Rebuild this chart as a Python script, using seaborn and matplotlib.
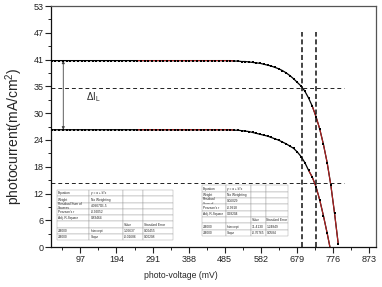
import matplotlib
matplotlib.use('Agg')
import numpy as np
import pandas as pd
import matplotlib.pyplot as plt
import seaborn as sns
from matplotlib.ticker import AutoMinorLocator

# Data (photo-voltage in mV, photocurrent in mA/cm2)
voltage_high = [20, 30, 40, 50, 60, 70, 80, 90, 100, 110,
                120, 130, 140, 150, 160, 170, 180, 190, 200, 210,
                220, 230, 240, 250, 260, 270, 280, 290, 300, 310,
                320, 330, 340, 350, 360, 370, 380, 390, 400, 410,
                420, 430, 440, 450, 460, 470, 480, 490, 500, 510,
                520, 530, 540, 550, 560, 570, 580, 590, 600, 610,
                620, 630, 640, 650, 660, 670, 680, 690, 700, 710,
                720, 730, 740, 750, 760, 770, 780, 790]
current_high = [41.0, 41.0, 41.0, 41.0, 41.0, 41.0, 41.0, 41.0, 41.0, 41.0,
                41.0, 41.0, 41.0, 41.0, 41.0, 41.0, 41.0, 41.0, 41.0, 41.0,
                41.0, 41.0, 41.0, 41.0, 41.0, 41.0, 41.0, 41.0, 41.0, 41.0,
                41.0, 41.0, 41.0, 41.0, 41.0, 41.0, 41.0, 41.0, 41.0, 41.0,
                41.0, 41.0, 41.0, 41.0, 41.0, 41.0, 41.0, 41.0, 41.0, 40.9,
                40.9, 40.8, 40.8, 40.7, 40.6, 40.5, 40.4, 40.2, 40.0, 39.8,
                39.5, 39.2, 38.8, 38.3, 37.7, 37.0, 36.2, 35.4, 34.3, 32.8,
                31.0, 28.7, 26.0, 22.6, 18.6, 13.6, 7.4, 0.6]

voltage_low = [20, 30, 40, 50, 60, 70, 80, 90, 100, 110,
               120, 130, 140, 150, 160, 170, 180, 190, 200, 210,
               220, 230, 240, 250, 260, 270, 280, 290, 300, 310,
               320, 330, 340, 350, 360, 370, 380, 390, 400, 410,
               420, 430, 440, 450, 460, 470, 480, 490, 500, 510,
               520, 530, 540, 550, 560, 570, 580, 590, 600, 610,
               620, 630, 640, 650, 660, 670, 680, 690, 700, 710,
               720, 730, 740, 750, 760, 770]
current_low = [25.8, 25.8, 25.8, 25.8, 25.8, 25.8, 25.8, 25.8, 25.8, 25.8,
               25.8, 25.8, 25.8, 25.8, 25.8, 25.8, 25.8, 25.8, 25.8, 25.8,
               25.8, 25.8, 25.8, 25.8, 25.8, 25.8, 25.8, 25.8, 25.8, 25.8,
               25.8, 25.8, 25.8, 25.8, 25.8, 25.8, 25.8, 25.8, 25.8, 25.8,
               25.8, 25.8, 25.8, 25.8, 25.8, 25.8, 25.8, 25.8, 25.8, 25.7,
               25.7, 25.6, 25.5, 25.4, 25.2, 25.0, 24.8, 24.6, 24.4, 24.1,
               23.8, 23.5, 23.1, 22.7, 22.2, 21.7, 20.9, 19.9, 18.6, 16.9,
               15.4, 13.3, 10.4, 6.9, 3.1, -1.0]

# voltage windows covered by the red fit lines
fit_flat = (250, 510)
fit_high_tail = (720, 790)
fit_low_tail = (710, 770)

x_ticks = [97, 194, 291, 388, 485, 582, 679, 776, 873]
y_tick_pos = [0, 53/9, 2*53/9, 3*53/9, 4*53/9, 5*53/9, 6*53/9, 7*53/9, 8*53/9, 53]
y_tick_labels = ['0', '6', '12', '18', '24', '30', '35', '41', '47', '53']

ref_currents = [35.0, 14.1]
ref_voltages = [692, 731]

table_left = [["Equation", "y = a + b*x", "", ""],
              ["Weight", "No Weighting", "", ""],
              ["Residual Sum of\nSquares", "4.09079E-5", "", ""],
              ["Pearson's r", "-0.92052", "", ""],
              ["Adj. R-Square", "0.83464", "", ""],
              ["", "", "Value", "Standard Error"],
              ["JM000", "Intercept", "1.06637", "0.00455"],
              ["JM000", "Slope", "-0.01686", "0.00208"]]
table_right = [["Equation", "y = a + b*x", "", ""],
               ["Weight", "No Weighting", "", ""],
               ["Residual\nSum of", "0.06029", "", ""],
               ["Pearson's r", "-0.9918", "", ""],
               ["Adj. R-Square", "0.98204", "", ""],
               ["", "", "Value", "Standard Error"],
               ["JM000", "Intercept", "31.4130", "1.24849"],
               ["JM000", "Slope", "-0.76765", "0.0584"]]

sns.set_style('ticks')
plt.rcParams['font.family'] = ['Liberation Sans', 'DejaVu Sans']
plt.rcParams['mathtext.fontset'] = 'custom'
plt.rcParams['mathtext.rm'] = 'Liberation Sans'
plt.rcParams['mathtext.it'] = 'Liberation Sans:italic'

high = pd.DataFrame({'V': voltage_high, 'I': current_high})
low = pd.DataFrame({'V': voltage_low, 'I': current_low})

fig, ax = plt.subplots(figsize=(3.82, 2.87), dpi=100)
fig.subplots_adjust(left=0.1335, right=0.983, bottom=0.139, top=0.979)

# curves
for df in (high, low):
    sns.lineplot(data=df, x='V', y='I', color='black', lw=0.9, ax=ax, sort=False)

# red fit segments
segments = [high[high.V.between(*fit_flat)], low[low.V.between(*fit_flat)],
            high[high.V.between(*fit_high_tail)], low[low.V.between(*fit_low_tail)]]
for seg in segments:
    sns.lineplot(data=seg, x='V', y='I', color='#b22222', lw=0.8, ax=ax, sort=False)

for df in (high, low):
    sns.scatterplot(data=df, x='V', y='I', marker='s', s=3.8, color='black',
                    linewidth=0, ax=ax, zorder=4)

# reference dashed lines
for yv in ref_currents:
    ax.plot([18, 805], [yv, yv], color='#222222', lw=0.7, ls=(0, (4, 3)))
for xv in ref_voltages:
    ax.plot([xv, xv], [0, 47.3], color='#111111', lw=1.1, ls=(0, (3.3, 1.8)))

# delta I_L arrow
ax.annotate('', xy=(51, current_low[0]), xytext=(51, current_high[0]),
            arrowprops=dict(arrowstyle='<|-|>', color='#444444', lw=0.6,
                            mutation_scale=4, shrinkA=0, shrinkB=0))
ax.text(132, 33.0, r'$\mathregular{\Delta I_L}$', fontsize=7, ha='center', va='center')

# fit tables
for rows, box in ((table_left, [0.018, 0.029, 0.357, 0.207]),
                  (table_right, [0.465, 0.046, 0.265, 0.21])):
    tb = ax.table(cellText=rows, bbox=box, cellLoc='left',
                  colWidths=[0.28, 0.29, 0.17, 0.26], zorder=3)
    tb.auto_set_font_size(False)
    tb.set_fontsize(2.3)
    for cell in tb.get_celld().values():
        cell.set_edgecolor('#9a9a9a')
        cell.set_linewidth(0.3)
        cell.set_facecolor('white')
        cell.PAD = 0.04

ax.set_xlim(18, 890)
ax.set_ylim(0, 53)
ax.set_xticks(x_ticks)
ax.set_yticks(y_tick_pos, y_tick_labels)
ax.xaxis.set_minor_locator(AutoMinorLocator(2))
ax.yaxis.set_minor_locator(AutoMinorLocator(2))
ax.tick_params(which='major', length=4, width=0.8, direction='out', labelsize=6.5,
               pad=1.5, colors='#222222')
ax.tick_params(which='minor', length=2.5, width=0.7, direction='out')

ax.set_xlabel('photo-voltage (mV)', fontsize=6.2)
ax.set_ylabel(r'photocurrent(mA/cm$\mathregular{^2}$)', fontsize=10)
ax.xaxis.set_label_coords(0.40, -0.10)
ax.yaxis.set_label_coords(-0.08, 0.46)

for side in ['left', 'bottom']:
    ax.spines[side].set_color('#111111')
    ax.spines[side].set_linewidth(0.9)
for side in ['top', 'right']:
    ax.spines[side].set_color('#555555')
    ax.spines[side].set_linewidth(0.9)

fig.savefig('out.png', dpi=100)
